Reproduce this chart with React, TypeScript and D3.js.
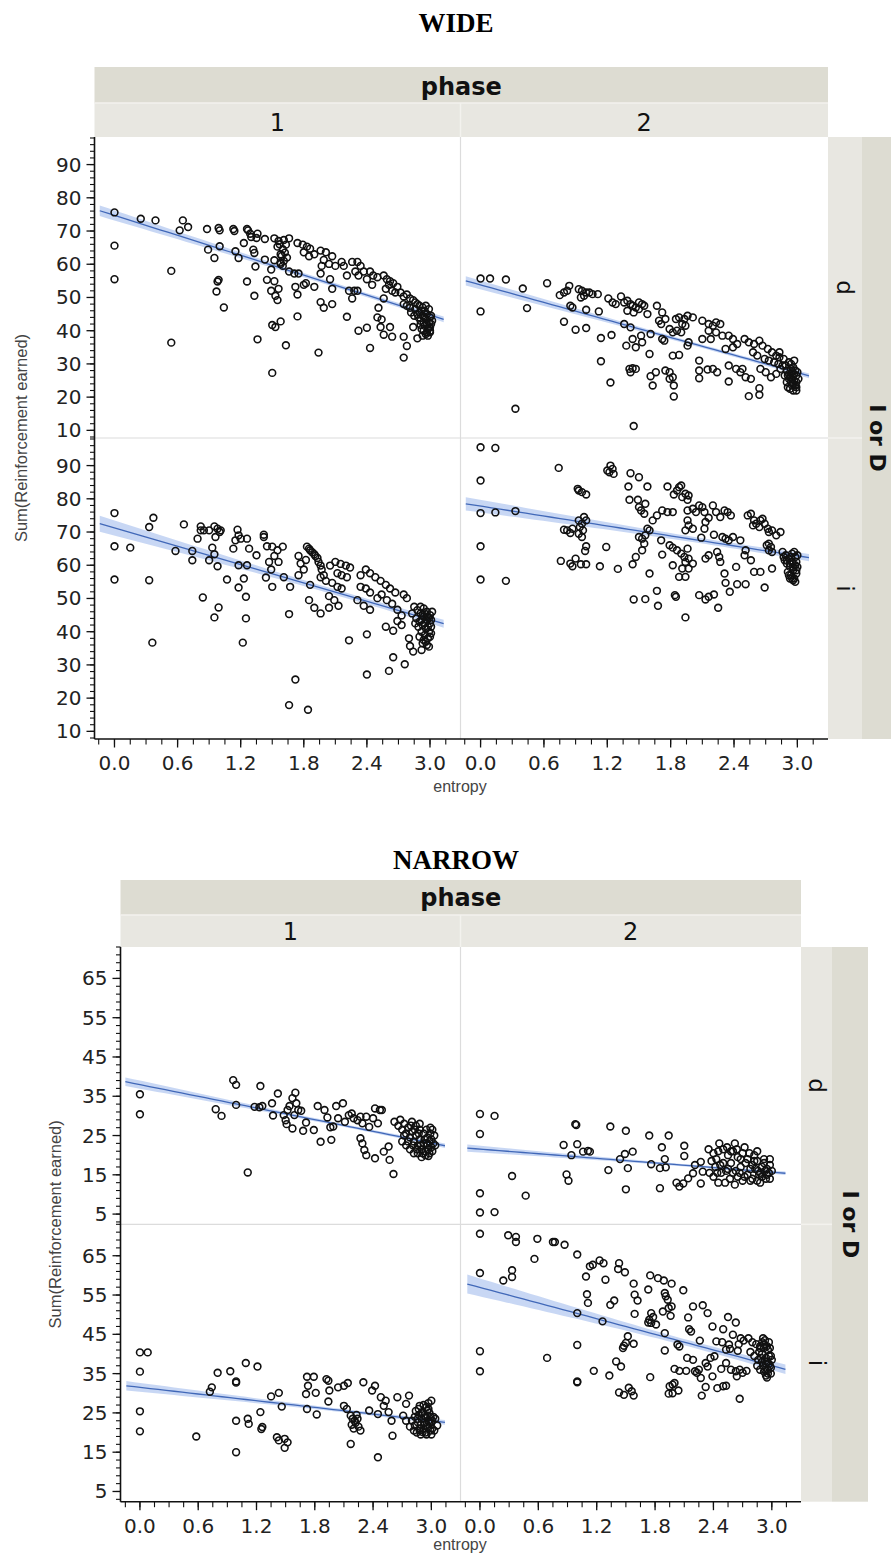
import React from "react";
import * as d3 from "d3";

type Pt = [number, number];

// ---------- shared ticks / labels ----------
const PHASES = ["1", "2"];
const GROUPS = ["d", "i"];
const X_TICKS = [0, 0.6, 1.2, 1.8, 2.4, 3.0];
const WIDE_Y_TICKS = [10, 20, 30, 40, 50, 60, 70, 80, 90];
const NARROW_Y_TICKS = [5, 15, 25, 35, 45, 55, 65];

// ---------- WIDE data ----------
const WIDE_P1_D: Pt[] = [
  [0.00,75.6],[0.00,65.6],[0.00,55.5],[0.25,73.7],[0.39,73.2],[0.54,58.0],[0.54,36.4],[0.65,73.2],[0.62,70.2],[0.70,71.2],
  [0.88,70.6],[0.89,64.4],[0.95,61.9],[0.99,70.9],[1.00,70.2],[1.00,65.4],[0.97,51.8],[0.98,54.8],[0.99,55.3],[1.04,47.0],
  [1.13,70.6],[1.14,70.0],[1.15,63.9],[1.18,61.9],[1.23,66.4],[1.26,70.6],[1.27,70.2],[1.26,54.8],[1.29,69.2],[1.30,68.2],
  [1.32,64.4],[1.33,63.4],[1.33,50.5],[1.34,59.3],[1.36,37.4],[1.36,69.2],[1.35,67.9],[1.43,67.6],[1.43,61.4],[1.45,55.3],
  [1.52,67.8],[1.56,67.0],[1.61,67.3],[1.66,67.8],[1.55,65.3],[1.63,65.9],[1.58,63.0],[1.52,61.2],[1.58,60.1],[1.58,60.5],
  [1.60,59.5],[1.61,61.0],[1.49,58.4],[1.52,54.9],[1.56,52.6],[1.49,52.0],[1.53,50.5],[1.55,49.2],[1.58,42.8],[1.50,41.7],
  [1.53,41.1],[1.63,35.6],[1.50,27.3],[1.74,66.4],[1.79,65.9],[1.83,65.3],[1.86,64.7],[1.80,63.6],[1.85,62.4],[1.90,63.0],
  [1.66,57.8],[1.71,57.2],[1.75,57.2],[1.72,53.2],[1.74,50.9],[1.80,53.8],[1.82,54.3],[1.90,53.2],[1.74,44.3],[1.94,33.4],
  [1.96,64.1],[2.01,63.6],[1.99,61.3],[2.04,60.1],[1.97,59.5],[2.07,62.4],[2.10,59.5],[1.96,57.2],[2.05,55.5],[2.07,52.6],
  [1.96,48.6],[1.99,46.9],[2.07,48.0],[2.16,60.7],[2.18,59.5],[2.21,56.6],[2.21,44.2],[2.26,60.7],[2.31,60.7],[2.34,59.5],
  [2.29,57.8],[2.32,56.6],[2.23,52.0],[2.28,52.0],[2.31,52.0],[2.26,49.7],[2.32,40.0],[2.40,40.9],[2.37,57.8],[2.43,57.8],
  [2.46,56.6],[2.50,56.1],[2.40,55.5],[2.45,53.8],[2.56,56.6],[2.59,55.5],[2.62,54.9],[2.65,54.3],[2.61,53.8],[2.58,52.6],
  [2.64,52.0],[2.67,51.5],[2.56,49.7],[2.51,46.9],[2.50,44.0],[2.54,43.4],[2.43,34.8],[2.53,41.1],[2.56,38.8],[2.62,41.1],
  [2.64,38.2],[2.69,53.2],[2.72,51.5],[2.75,50.3],[2.78,50.9],[2.81,49.7],[2.84,49.2],[2.88,48.0],[2.81,46.9],[2.75,48.0],
  [2.75,31.9],[2.75,38.2],[2.78,35.4],[2.88,37.7],[2.84,41.1],[2.90,45.5],[2.93,44.5],[2.96,43.5],[2.99,42.5],[2.95,41.5],
  [2.98,40.5],[2.92,40.5],[3.00,39.5],[2.94,42.5],[2.97,45.0],[3.00,44.0],[2.96,39.0],[2.91,43.0],[2.99,41.0],[3.01,42.0],
  [2.95,46.0],[2.93,47.0],[2.98,38.5],[2.89,44.0],[3.00,40.0],[2.78,47.5],[2.82,45.5],[2.85,44.5],[2.86,46.5],
  [2.92,46.0],[2.95,44.0],[2.97,42.0],[2.99,46.5],[3.01,44.5],[2.94,40.0],[2.97,39.5],[3.00,41.0],[2.91,41.8],[2.96,47.5],
  [2.88,45.0],[2.93,38.5],[3.02,43.0],[2.90,47.5],[2.86,48.5],[1.57,66.0],[1.60,64.5],[1.62,63.5],[1.64,62.0],[1.59,62.5]
];

const WIDE_P2_D: Pt[] = [
  [0.00,55.7],[0.09,55.7],[0.00,45.8],[0.24,55.4],[0.40,52.7],[0.44,46.8],[0.33,16.5],[0.63,54.3],[0.79,42.7],[0.75,50.7],
  [0.79,51.5],[0.84,53.5],[0.82,52.0],[0.85,47.5],[0.87,47.0],[0.90,40.3],[1.00,40.8],[0.93,52.5],[0.96,52.0],[1.00,51.5],
  [0.98,50.5],[1.03,51.5],[1.06,51.0],[1.11,51.0],[0.95,50.0],[1.00,46.3],[1.12,45.8],[1.14,37.8],[1.24,38.7],[1.14,30.8],
  [1.23,24.4],[1.21,49.7],[1.25,48.5],[1.33,50.3],[1.28,48.0],[1.36,48.5],[1.39,49.0],[1.42,48.0],[1.44,47.5],[1.47,47.0],
  [1.50,48.5],[1.53,48.0],[1.55,47.5],[1.39,46.0],[1.45,45.5],[1.50,46.5],[1.58,45.0],[1.36,42.0],[1.42,41.0],[1.38,35.5],
  [1.44,37.5],[1.47,35.0],[1.53,36.5],[1.52,38.5],[1.41,28.5],[1.44,28.7],[1.47,28.5],[1.42,27.5],[1.45,11.3],[1.60,33.0],
  [1.61,39.0],[1.67,47.5],[1.72,45.5],[1.69,43.0],[1.71,42.0],[1.75,43.5],[1.79,40.5],[1.72,37.5],[1.74,37.0],[1.61,26.3],
  [1.63,23.5],[1.66,27.5],[1.75,28.0],[1.79,27.5],[1.82,26.0],[1.83,23.5],[1.83,20.2],[1.79,25.5],[1.82,32.5],[1.88,32.7],
  [1.85,43.5],[1.88,44.0],[1.93,43.5],[1.96,44.5],[2.01,44.0],[1.91,42.0],[1.94,41.5],[1.86,40.0],[1.90,39.5],[1.82,39.5],
  [1.97,36.5],[1.96,35.5],[2.07,31.0],[2.07,28.0],[2.07,25.7],[2.15,28.3],[2.20,28.5],[2.24,27.5],[2.10,43.0],[2.16,42.0],
  [2.20,41.5],[2.23,42.5],[2.27,42.0],[2.16,40.0],[2.23,39.5],[2.10,37.5],[2.18,37.5],[2.29,38.5],[2.35,38.5],[2.39,37.5],
  [2.32,34.5],[2.39,35.0],[2.43,36.0],[2.35,29.5],[2.42,28.5],[2.46,27.5],[2.51,26.0],[2.56,25.5],[2.48,28.5],[2.35,24.7],
  [2.54,20.3],[2.64,20.7],[2.64,22.7],[2.50,37.5],[2.54,36.5],[2.59,36.0],[2.64,37.0],[2.67,35.5],[2.72,34.5],[2.76,33.5],
  [2.80,32.5],[2.83,32.0],[2.58,33.5],[2.62,32.5],[2.69,31.5],[2.73,31.0],[2.78,30.5],[2.65,28.5],[2.70,27.5],[2.75,26.0],
  [2.80,27.0],[2.84,28.5],[2.89,29.5],[2.92,30.5],[2.94,28.5],[2.95,27.5],[2.91,26.5],[2.92,25.5],[2.94,24.5],[2.95,23.5],
  [2.91,23.0],[2.97,25.0],[2.99,26.5],[2.87,31.5],[2.83,33.5],[2.96,24.0],[2.98,23.5],[2.93,26.0],[2.97,27.0],[2.99,24.5],
  [2.90,28.0],[2.93,22.5],[2.96,22.0],[2.99,23.0],[2.95,25.5],[2.98,28.0],[2.92,27.0],[2.96,29.0],[3.00,27.5],[2.94,30.0],
  [2.97,31.0],[2.90,24.5],[2.99,22.0],[2.88,26.5],[2.86,29.5],[2.82,30.0],[3.01,25.5]
];

const WIDE_P1_I: Pt[] = [
  [0.00,75.7],[0.00,65.7],[0.00,55.7],[0.15,65.3],[0.33,71.5],[0.37,74.3],[0.33,55.5],[0.36,36.7],[0.66,72.3],[0.58,64.3],
  [0.74,64.3],[0.74,61.5],[0.79,68.0],[0.82,71.7],[0.82,70.5],[0.85,70.5],[0.84,50.3],[0.90,70.5],[0.95,71.7],[0.98,71.0],
  [1.00,70.0],[0.96,68.5],[1.01,70.5],[0.93,65.3],[0.95,63.3],[0.98,59.7],[0.90,61.5],[0.95,44.3],[0.99,47.3],[1.07,55.7],
  [1.13,65.0],[1.15,67.5],[1.17,70.7],[1.18,69.0],[1.20,68.0],[1.26,68.0],[1.18,60.0],[1.26,60.0],[1.18,53.3],[1.23,56.0],
  [1.25,50.5],[1.22,36.7],[1.25,44.0],[1.28,65.0],[1.35,63.0],[1.42,69.2],[1.42,68.5],[1.45,65.7],[1.47,61.0],[1.44,56.3],
  [1.50,65.6],[1.55,64.5],[1.60,65.6],[1.52,62.8],[1.56,61.0],[1.49,58.7],[1.50,53.5],[1.67,53.5],[1.66,45.3],[1.72,25.6],
  [1.66,17.9],[1.84,16.5],[1.61,56.4],[1.75,62.8],[1.77,60.5],[1.82,61.6],[1.80,58.7],[1.75,57.0],[1.83,65.6],[1.86,64.5],
  [1.90,63.3],[1.93,62.2],[1.94,61.0],[1.96,59.9],[1.97,58.7],[1.99,57.0],[1.96,56.4],[2.01,55.3],[1.85,65.0],[1.88,63.9],
  [1.91,62.8],[1.86,54.1],[1.85,49.5],[1.90,47.2],[1.96,45.5],[2.05,59.9],[2.10,61.0],[2.15,60.4],[2.20,59.9],[2.24,59.3],
  [2.12,57.6],[2.16,57.0],[2.21,56.4],[2.07,54.7],[2.12,53.5],[2.16,53.0],[2.04,50.7],[2.09,49.5],[2.13,47.8],[2.04,47.2],
  [2.23,37.4],[2.34,57.0],[2.39,58.7],[2.43,57.6],[2.48,56.4],[2.34,53.5],[2.39,53.0],[2.43,51.8],[2.31,49.5],[2.37,47.8],
  [2.43,46.6],[2.50,50.1],[2.40,39.2],[2.40,27.1],[2.53,55.3],[2.58,54.1],[2.62,53.0],[2.67,51.8],[2.54,51.2],[2.59,49.5],
  [2.64,48.4],[2.69,46.6],[2.75,51.2],[2.78,50.1],[2.73,44.9],[2.69,43.2],[2.58,41.5],[2.65,40.3],[2.73,42.0],[2.61,28.2],
  [2.65,32.3],[2.76,30.2],[2.80,38.0],[2.81,35.7],[2.84,34.0],[2.92,34.5],[2.85,47.5],[2.88,46.5],[2.91,45.5],[2.94,44.5],
  [2.97,43.5],[3.00,42.5],[2.90,43.0],[2.93,42.0],[2.96,41.0],[2.99,40.0],[2.95,39.0],[2.98,38.0],[3.01,41.5],[2.92,40.0],
  [2.87,44.0],[2.97,46.0],[3.00,45.0],[2.94,47.0],[2.89,41.5],[2.96,37.0],[3.00,38.5],[2.83,45.5],[2.99,44.0],[2.93,36.5],
  [2.91,47.5],[2.95,45.5],[2.98,44.5],[3.01,43.5],[2.92,43.5],[2.95,42.5],[2.98,41.5],[3.01,39.5],[2.94,37.5],[2.97,36.0],
  [2.99,35.5],[2.90,38.5],[2.93,45.0],[3.02,46.0],[2.86,42.5]
];

const WIDE_P2_I: Pt[] = [
  [0.00,95.5],[0.14,95.3],[0.00,85.5],[0.00,75.7],[0.14,75.9],[0.33,76.3],[0.00,65.7],[0.00,55.7],[0.24,55.3],[0.74,89.3],
  [0.76,61.3],[0.85,60.5],[0.87,59.7],[0.90,62.0],[0.95,60.3],[1.00,60.3],[0.79,70.7],[0.82,70.5],[0.85,69.7],[0.87,71.0],
  [0.92,83.0],[0.93,82.5],[0.96,82.0],[1.00,81.3],[0.93,73.5],[0.96,72.5],[0.94,71.5],[0.97,70.5],[0.93,69.5],[0.96,68.5],
  [1.00,73.5],[0.98,74.5],[1.00,65.7],[0.99,64.3],[1.13,59.7],[1.19,65.5],[1.30,58.9],[1.20,88.5],[1.23,90.0],[1.25,89.0],
  [1.26,87.5],[1.22,88.0],[1.42,87.7],[1.50,86.5],[1.58,83.7],[1.40,83.7],[1.41,79.7],[1.49,79.7],[1.56,78.5],[1.44,60.3],
  [1.47,62.5],[1.53,64.5],[1.55,66.5],[1.50,77.5],[1.52,76.5],[1.55,75.5],[1.58,71.0],[1.50,68.5],[1.53,68.0],[1.56,69.0],
  [1.60,70.5],[1.45,49.7],[1.56,49.8],[1.60,57.5],[1.67,52.3],[1.68,47.8],[1.63,73.5],[1.67,75.0],[1.72,76.5],[1.77,76.0],
  [1.82,76.0],[1.71,67.5],[1.72,63.2],[1.79,66.0],[1.82,65.3],[1.82,60.0],[1.77,83.7],[1.83,81.3],[1.86,82.5],[1.88,83.5],
  [1.90,84.0],[1.91,80.5],[1.94,81.5],[1.96,79.7],[1.97,81.0],[1.88,56.5],[1.94,56.5],[1.84,51.0],[1.85,50.5],[1.94,44.3],
  [1.86,64.5],[1.90,63.5],[1.93,62.5],[1.96,65.0],[1.97,62.0],[1.94,61.0],[2.01,60.5],[1.91,59.0],[1.97,59.0],[1.96,73.5],
  [1.97,72.0],[2.01,71.0],[1.94,70.5],[1.96,76.5],[2.01,77.0],[2.04,76.0],[2.07,78.0],[2.10,77.5],[2.12,76.0],[2.09,68.3],
  [2.12,71.0],[2.13,73.0],[2.16,74.3],[2.20,78.0],[2.23,76.0],[2.27,74.5],[2.31,76.5],[2.34,76.0],[2.37,75.0],[2.07,51.0],
  [2.13,49.7],[2.16,50.5],[2.21,51.2],[2.25,47.2],[2.31,57.5],[2.36,52.0],[2.32,54.7],[2.13,62.0],[2.16,63.0],[2.21,69.2],
  [2.24,64.0],[2.26,62.5],[2.27,61.0],[2.29,68.5],[2.32,68.0],[2.35,67.5],[2.39,68.5],[2.42,59.5],[2.46,67.5],[2.50,63.0],
  [2.51,64.5],[2.53,75.0],[2.56,75.5],[2.58,72.0],[2.59,73.5],[2.61,72.5],[2.64,71.5],[2.65,73.5],[2.67,74.0],[2.69,72.5],
  [2.72,71.0],[2.73,70.0],[2.76,70.5],[2.80,69.0],[2.84,70.0],[2.56,61.5],[2.59,58.0],[2.65,58.0],[2.51,54.3],[2.69,53.3],
  [2.76,59.0],[2.43,54.3],[2.73,66.5],[2.75,65.5],[2.73,64.5],[2.71,66.0],[2.76,64.0],[2.86,64.0],[2.89,63.0],[2.92,62.0],
  [2.95,61.0],[2.98,60.0],[2.90,60.5],[2.93,59.5],[2.96,58.5],[2.99,57.5],[2.94,57.0],[2.97,56.0],[2.91,58.0],[2.88,61.5],
  [2.95,63.5],[2.98,62.5],[2.93,56.0],[2.96,55.5],[2.99,61.0],[2.87,62.5],[2.90,61.5],[2.93,60.5],[2.96,59.5],[2.99,58.5],
  [2.92,57.0],[2.95,56.0],[2.98,55.0],[2.97,64.0],[3.00,63.0],[2.94,62.5],[3.00,59.5]
];

// ---------- NARROW data ----------
const NARROW_P1_D: Pt[] = [
  [0.00,35.5],[0.00,30.4],[0.78,31.7],[0.84,30.0],[0.96,39.1],[0.99,37.9],[0.99,32.8],[1.11,15.6],[1.24,37.6],[1.18,32.3],
  [1.23,32.2],[1.26,32.5],[1.36,33.2],[1.42,35.7],[1.37,30.1],[1.48,30.2],[1.50,28.9],[1.51,27.9],[1.57,26.8],[1.52,31.5],
  [1.54,32.5],[1.57,34.5],[1.60,35.9],[1.61,33.2],[1.63,31.5],[1.66,31.3],[1.59,30.2],[1.68,26.2],[1.71,28.3],[1.79,26.4],
  [1.86,23.4],[1.83,32.5],[1.90,31.5],[1.93,29.6],[1.96,27.1],[1.97,23.9],[1.99,27.3],[2.02,32.5],[2.09,33.2],[2.04,29.4],
  [2.11,28.5],[2.15,30.2],[2.18,30.6],[2.20,29.4],[2.24,28.9],[2.27,29.8],[2.29,28.1],[2.33,29.8],[2.36,27.2],[2.40,29.4],
  [2.42,31.9],[2.47,31.5],[2.49,31.5],[2.45,28.1],[2.27,24.3],[2.29,23.0],[2.31,21.3],[2.33,20.0],[2.42,19.2],[2.51,20.9],
  [2.56,22.2],[2.57,18.8],[2.61,15.2],[2.62,28.5],[2.66,27.5],[2.70,26.5],[2.74,25.5],[2.78,24.5],[2.82,23.5],[2.86,22.5],
  [2.90,21.5],[2.94,21.0],[2.98,20.5],[2.68,29.0],[2.72,28.0],[2.76,27.0],[2.80,26.0],[2.84,25.0],[2.88,24.0],[2.92,23.0],
  [2.96,22.5],[3.00,22.0],[2.80,28.5],[2.84,27.5],[2.88,26.5],[2.92,25.5],[2.96,24.5],[3.00,24.0],[2.86,20.5],[2.90,19.5],
  [2.94,20.0],[2.98,23.5],[2.78,21.5],[2.82,20.5],[2.74,22.5],[3.02,23.0],[2.70,23.5],[2.88,28.0],[2.95,26.5],[2.99,25.5],
  [2.85,21.5],[2.89,22.5],[2.93,24.0],[2.97,21.5],[3.01,21.0],[3.03,25.0],[2.91,20.5],[2.95,23.0],[2.87,25.5],[2.83,26.5],
  [2.79,27.5],[2.76,23.5],[2.99,27.0],[3.04,22.5],[2.81,22.5],[2.72,25.0],[2.97,19.8],[3.01,26.5]
];

const NARROW_P2_D: Pt[] = [
  [0.00,30.5],[0.15,30.0],[0.00,25.4],[0.00,10.3],[0.00,5.4],[0.15,5.5],[0.33,14.7],[0.47,9.7],[0.86,22.6],[1.00,22.8],
  [0.94,20.0],[1.06,20.9],[1.11,21.1],[1.13,20.9],[0.98,27.9],[0.99,27.7],[0.89,15.1],[0.91,13.5],[1.34,27.3],[1.50,26.2],
  [1.32,16.2],[1.44,19.0],[1.49,20.3],[1.57,20.9],[1.52,16.7],[1.50,11.3],[1.74,25.0],[1.94,25.0],[1.87,22.0],[2.10,22.4],
  [1.90,19.0],[2.10,19.8],[1.76,17.7],[1.85,16.7],[1.91,16.9],[1.85,11.6],[2.02,13.0],[2.05,12.0],[2.09,12.8],[2.14,14.1],
  [2.19,15.4],[2.21,17.5],[2.27,18.3],[2.29,15.8],[2.27,12.8],[2.35,21.5],[2.40,20.5],[2.45,21.0],[2.38,18.5],[2.42,17.0],
  [2.36,15.5],[2.40,14.5],[2.45,13.0],[2.50,21.5],[2.55,20.0],[2.60,21.0],[2.65,19.5],[2.70,20.5],[2.75,19.0],[2.50,18.0],
  [2.55,16.5],[2.60,15.5],[2.65,14.5],[2.70,13.5],[2.75,15.0],[2.80,17.5],[2.85,18.5],[2.90,17.0],[2.95,16.5],[3.00,16.0],
  [2.80,14.0],[2.85,13.5],[2.90,14.5],[2.95,15.0],[2.52,13.0],[2.62,12.5],[2.48,15.5],[2.58,18.0],[2.68,17.0],[2.78,16.5],
  [2.88,15.5],[2.98,17.5],[2.92,19.0],[2.82,20.0],[2.72,22.0],[2.62,23.0],[2.46,23.0],[2.86,16.0],[2.94,14.0],
  [2.43,19.0],[2.47,17.5],[2.53,16.0],[2.57,14.0],[2.63,16.0],[2.67,15.5],[2.73,18.0],[2.77,20.5],[2.83,16.5],[2.87,15.0],
  [2.93,16.0],[2.97,15.5],[2.58,21.0],[2.68,19.0],[2.78,13.5],[2.88,13.0],[2.98,14.0],[2.92,18.0],[2.82,18.5],[2.72,14.5],
  [2.64,21.5],[2.54,22.0],[2.44,15.5],[2.98,19.0],[2.85,21.0]
];

const NARROW_P1_I: Pt[] = [
  [0.00,40.4],[0.08,40.4],[0.00,35.5],[0.00,25.4],[0.00,20.3],[0.58,19.0],[0.72,30.4],[0.74,31.5],[0.80,35.2],[0.93,35.6],
  [0.99,33.0],[0.99,32.7],[0.99,23.0],[1.11,23.5],[1.12,22.2],[0.99,15.0],[1.09,37.7],[1.21,36.8],[1.24,25.2],[1.25,20.9],
  [1.26,21.4],[1.35,29.2],[1.43,30.1],[1.46,26.6],[1.41,18.8],[1.43,18.0],[1.49,18.4],[1.52,17.5],[1.49,16.1],[1.72,34.2],
  [1.79,34.2],[1.92,33.6],[1.94,33.2],[1.71,29.8],[1.73,31.9],[1.81,30.1],[1.95,30.7],[1.72,26.0],[1.82,24.6],[1.94,27.9],
  [2.04,31.5],[2.10,31.9],[2.14,32.6],[2.17,17.1],[2.10,26.8],[2.13,26.0],[2.17,24.3],[2.21,23.0],[2.24,23.5],[2.30,32.8],
  [2.36,25.6],[2.39,30.7],[2.42,31.9],[2.45,24.7],[2.45,13.7],[2.48,29.0],[2.51,26.8],[2.53,28.1],[2.56,25.2],[2.59,23.0],
  [2.60,19.2],[2.18,22.0],[2.20,21.0],[2.22,22.5],[2.25,21.5],[2.19,23.5],[2.23,24.5],[2.27,20.5],[2.65,29.0],[2.71,24.3],
  [2.74,27.3],[2.77,29.4],[2.83,21.8],[2.86,22.6],[2.88,26.8],[2.91,20.1],[2.97,26.0],[3.00,28.1],[3.03,20.5],[3.06,21.8],
  [2.84,25.5],[2.87,24.5],[2.90,23.5],[2.93,22.5],[2.96,21.5],[2.99,20.5],[2.85,20.0],[2.88,21.0],[2.91,25.0],[2.94,24.0],
  [2.97,23.0],[3.00,22.5],[2.89,19.5],[2.95,19.5],[2.92,27.0],[2.98,25.0],[3.02,24.0],[2.80,23.0],[2.82,20.5],[2.95,26.5],
  [3.01,23.0],[2.78,21.5],[2.74,23.0],[2.86,23.5],[2.89,22.0],[2.92,21.0],[2.95,22.0],[2.98,22.5],[3.01,21.0],[3.04,23.5],
  [2.87,26.0],[2.90,25.0],[2.93,24.5],[2.96,25.5],[2.99,24.0],[2.88,20.5],[2.94,20.0],[3.00,19.5],[2.83,24.0],[2.97,27.5]
];

const NARROW_P2_I: Pt[] = [
  [0.00,70.6],[0.00,60.6],[0.00,40.7],[0.00,35.6],[0.29,70.2],[0.37,69.8],[0.37,68.5],[0.59,69.3],[0.75,68.5],[0.77,68.5],
  [0.87,67.8],[0.24,58.7],[0.33,59.6],[0.33,61.3],[0.56,64.2],[0.69,39.0],[1.00,65.3],[1.00,50.4],[1.00,42.3],[1.00,33.0],
  [1.00,32.8],[1.13,62.3],[1.16,62.7],[1.23,63.8],[1.27,63.1],[1.09,59.7],[1.29,58.9],[1.10,55.2],[1.11,53.0],[1.26,48.3],
  [1.17,35.7],[1.33,34.5],[1.34,52.5],[1.38,53.6],[1.40,38.1],[1.45,36.8],[1.43,63.1],[1.42,61.6],[1.49,60.8],[1.52,44.5],
  [1.50,42.8],[1.48,42.1],[1.47,41.5],[1.58,42.6],[1.43,30.2],[1.48,29.6],[1.53,31.4],[1.58,29.4],[1.56,30.5],[1.58,57.9],
  [1.59,55.1],[1.62,53.6],[1.59,50.2],[1.73,56.4],[1.75,60.0],[1.83,59.3],[1.89,58.7],[1.97,57.9],[1.90,55.5],[1.91,54.7],
  [1.93,53.8],[1.97,52.1],[2.09,56.2],[1.76,50.4],[1.78,49.4],[1.74,48.7],[1.76,47.9],[1.73,48.0],[1.81,47.5],[1.88,50.8],
  [1.94,51.7],[1.96,49.7],[1.90,45.3],[1.90,40.9],[2.03,42.4],[2.05,41.9],[1.75,34.1],[1.95,31.8],[1.98,32.2],[2.00,32.6],
  [1.94,29.9],[2.04,30.7],[1.98,30.0],[2.19,52.1],[2.29,52.4],[2.34,50.4],[2.14,49.3],[2.15,46.3],[2.17,45.7],[2.26,43.4],
  [2.00,36.2],[2.05,35.7],[2.12,35.7],[2.13,39.0],[2.19,38.5],[2.21,35.6],[2.23,35.2],[2.25,36.0],[2.27,33.9],[2.32,37.7],
  [2.34,36.8],[2.37,39.0],[2.41,39.4],[2.39,34.3],[2.28,29.4],[2.32,31.6],[2.44,31.3],[2.50,31.8],[2.53,31.9],[2.67,28.6],
  [2.39,47.0],[2.50,46.3],[2.55,49.4],[2.63,48.0],[2.60,44.9],[2.43,43.2],[2.49,43.0],[2.53,41.1],[2.56,42.4],[2.57,41.3],
  [2.65,40.8],[2.66,42.5],[2.68,44.0],[2.71,43.4],[2.58,36.0],[2.63,35.6],[2.67,36.0],[2.70,35.2],[2.74,35.7],[2.64,34.3],
  [2.53,37.7],[2.48,36.2],[2.76,44.0],[2.80,43.0],[2.84,42.5],[2.88,42.0],[2.92,41.5],[2.96,41.0],[2.78,40.5],[2.82,39.5],
  [2.86,38.5],[2.90,38.0],[2.94,37.5],[2.98,37.0],[2.88,36.0],[2.92,35.5],[2.96,35.0],[2.99,36.5],[2.90,40.0],[2.94,39.0],
  [2.97,39.5],[2.93,43.5],[2.97,43.0],[2.85,37.0],[3.00,38.5],[2.95,34.0],[2.91,44.0],[2.87,40.5],[2.89,39.0],[2.91,37.0],
  [2.93,36.0],[2.95,38.0],[2.97,37.5],[2.99,39.5],[2.92,42.5],[2.95,42.0],[2.98,41.5],[2.90,43.0],[2.96,36.0],[2.94,34.5],
  [2.99,35.0],[2.88,41.5]
];

// fitted lines: [x0, y0, x1, y1]; band half-widths: [atStart, minimum]
const WIDE_FIT_1D = [-0.14, 76.1, 3.13, 43.4];
const WIDE_FIT_2D = [-0.14, 55.0, 3.11, 26.4];
const WIDE_FIT_1I = [-0.14, 72.5, 3.13, 42.4];
const WIDE_FIT_2I = [-0.14, 78.5, 3.11, 62.3];
const NARROW_FIT_1D = [-0.15, 38.7, 3.14, 22.4];
const NARROW_FIT_2D = [-0.13, 21.8, 3.14, 15.4];
const NARROW_FIT_1I = [-0.14, 31.9, 3.14, 22.6];
const NARROW_FIT_2I = [-0.13, 57.8, 3.14, 36.1];
const WIDE_BAND_1D = [1.6, 0.6];
const WIDE_BAND_2D = [1.4, 0.5];
const WIDE_BAND_1I = [2.4, 0.8];
const WIDE_BAND_2I = [2.0, 0.8];
const NARROW_BAND_1D = [1.1, 0.35];
const NARROW_BAND_2D = [0.9, 0.3];
const NARROW_BAND_1I = [1.2, 0.4];
const NARROW_BAND_2I = [2.4, 0.8];

// ---------- styling ----------
const SANS = "'DejaVu Sans', Verdana, sans-serif";
const LABEL = "'Liberation Sans', Arial, sans-serif";
const SERIF = "'Liberation Serif', 'Times New Roman', serif";
const STRIP_DARK = "#dddcd2";
const STRIP_LIGHT = "#e8e7e1";
const LINE_BLUE = "#4168b8";
const BAND_BLUE = "rgba(110,150,225,0.38)";

interface PanelData { pts: Pt[]; fit: number[]; band: number[]; }
interface Cfg {
  id: string; title: string; titleY: number;
  x0: number; xm: number; x1: number; stripL: number; stripR: number; rowLabelX: number; groupLabelX: number;
  bandTop: number; bandMid: number; top: number; rowMid: number; bottom: number;
  yDomain: [number, number]; yTicks: number[]; yMinor: number[]; xDomain: [number, number];
  panels: PanelData[][]; yTitleX: number; xTitleY: number; phaseBase: number; numBase: number;
}

const WIDE: Cfg = {
  id: "w", title: "WIDE", titleY: 32,
  x0: 94.5, xm: 460.5, x1: 828, stripL: 862, stripR: 898, rowLabelX: 845, groupLabelX: 877,
  bandTop: 67, bandMid: 103, top: 137, rowMid: 438, bottom: 739,
  yDomain: [7.7, 98.3], yTicks: WIDE_Y_TICKS, yMinor: d3.range(8, 99, 2), xDomain: [-0.19, 3.29],
  panels: [
    [{ pts: WIDE_P1_D, fit: WIDE_FIT_1D, band: WIDE_BAND_1D }, { pts: WIDE_P2_D, fit: WIDE_FIT_2D, band: WIDE_BAND_2D }],
    [{ pts: WIDE_P1_I, fit: WIDE_FIT_1I, band: WIDE_BAND_1I }, { pts: WIDE_P2_I, fit: WIDE_FIT_2I, band: WIDE_BAND_2I }],
  ],
  yTitleX: 20.5, xTitleY: 792, phaseBase: 95, numBase: 131,
};

const NARROW: Cfg = {
  id: "n", title: "NARROW", titleY: 869,
  x0: 120.5, xm: 460.5, x1: 801, stripL: 832, stripR: 868, rowLabelX: 816.5, groupLabelX: 850,
  bandTop: 880, bandMid: 915, top: 947, rowMid: 1224.3, bottom: 1501.7,
  yDomain: [2.4, 73], yTicks: NARROW_Y_TICKS, yMinor: d3.range(3, 74, 2), xDomain: [-0.2, 3.3],
  panels: [
    [{ pts: NARROW_P1_D, fit: NARROW_FIT_1D, band: NARROW_BAND_1D }, { pts: NARROW_P2_D, fit: NARROW_FIT_2D, band: NARROW_BAND_2D }],
    [{ pts: NARROW_P1_I, fit: NARROW_FIT_1I, band: NARROW_BAND_1I }, { pts: NARROW_P2_I, fit: NARROW_FIT_2I, band: NARROW_BAND_2I }],
  ],
  yTitleX: 55, xTitleY: 1550, phaseBase: 906, numBase: 940,
};

const X_MINOR = d3.range(-0.15, 3.3, 0.15);

function Panel({ cfg, r, c }: { cfg: Cfg; r: number; c: number }) {
  const p = cfg.panels[r][c];
  const px0 = c === 0 ? cfg.x0 : cfg.xm;
  const px1 = c === 0 ? cfg.xm : cfg.x1;
  const py0 = r === 0 ? cfg.top : cfg.rowMid;
  const py1 = r === 0 ? cfg.rowMid : cfg.bottom;
  const x = d3.scaleLinear().domain(cfg.xDomain).range([px0, px1]);
  const y = d3.scaleLinear().domain(cfg.yDomain).range([py1, py0]);
  const [fx0, fy0, fx1, fy1] = p.fit;
  const slope = (fy1 - fy0) / (fx1 - fx0);
  const xc = 2.2;
  const [hs, hm] = p.band;
  const k = (hs * hs - hm * hm) / ((fx0 - xc) * (fx0 - xc));
  const samples = d3.range(0, 41).map((i) => {
    const xv = fx0 + ((fx1 - fx0) * i) / 40;
    const yv = fy0 + slope * (xv - fx0);
    const hw = Math.sqrt(hm * hm + k * (xv - xc) * (xv - xc));
    return { xv, yv, hw };
  });
  const area = d3.area<{ xv: number; yv: number; hw: number }>()
    .x((d) => x(d.xv)).y0((d) => y(d.yv - d.hw)).y1((d) => y(d.yv + d.hw));
  const line = d3.line<{ xv: number; yv: number }>().x((d) => x(d.xv)).y((d) => y(d.yv));
  const clipId = `clip-${cfg.id}-${r}-${c}`;
  return (
    <g>
      <clipPath id={clipId}>
        <rect x={px0} y={py0} width={px1 - px0} height={py1 - py0} />
      </clipPath>
      <g clipPath={`url(#${clipId})`}>
        <path d={area(samples) || ""} fill={BAND_BLUE} stroke="none" />
        <path d={line(samples) || ""} fill="none" stroke={LINE_BLUE} strokeWidth={1.3} />
        {p.pts.map((d, i) => (
          <circle key={i} cx={x(d[0])} cy={y(d[1])} r={3.4} fill="none" stroke="#111" strokeWidth={1.6} />
        ))}
      </g>
    </g>
  );
}

function Facet({ cfg }: { cfg: Cfg }) {
  const rows = [[cfg.top, cfg.rowMid], [cfg.rowMid, cfg.bottom]];
  const cols = [[cfg.x0, cfg.xm], [cfg.xm, cfg.x1]];
  const midX = (cfg.x0 + cfg.x1) / 2;
  return (
    <g>
      <text x={456} y={cfg.titleY} textAnchor="middle" fontFamily={SERIF} fontWeight="bold" fontSize={27} fill="#000">
        {cfg.title}
      </text>
      {/* column header */}
      <rect x={cfg.x0} y={cfg.bandTop} width={cfg.x1 - cfg.x0} height={cfg.bandMid - cfg.bandTop} fill={STRIP_DARK} />
      <rect x={cfg.x0} y={cfg.bandMid} width={cfg.x1 - cfg.x0} height={cfg.top - cfg.bandMid} fill={STRIP_LIGHT} />
      <line x1={cfg.x0} x2={cfg.x1} y1={cfg.bandMid} y2={cfg.bandMid} stroke="#f3f2ee" strokeWidth={1.5} />
      <line x1={cfg.xm} x2={cfg.xm} y1={cfg.bandMid} y2={cfg.top} stroke="#f3f2ee" strokeWidth={1.5} />
      <text x={midX} y={cfg.phaseBase} textAnchor="middle" fontFamily={SANS} fontWeight="bold" fontSize={24} fill="#111">
        phase
      </text>
      {PHASES.map((ph, i) => (
        <text key={ph} x={(cols[i][0] + cols[i][1]) / 2} y={cfg.numBase} textAnchor="middle" fontFamily={SANS} fontSize={24} fill="#111">
          {ph}
        </text>
      ))}
      {/* row header */}
      <rect x={cfg.x1} y={cfg.top} width={cfg.stripL - cfg.x1} height={cfg.bottom - cfg.top} fill={STRIP_LIGHT} />
      <rect x={cfg.stripL} y={cfg.top} width={cfg.stripR - cfg.stripL} height={cfg.bottom - cfg.top} fill={STRIP_DARK} />
      <line x1={cfg.x1} x2={cfg.stripL} y1={cfg.rowMid} y2={cfg.rowMid} stroke="#f3f2ee" strokeWidth={1.5} />
      {GROUPS.map((g, i) => (
        <text key={g} transform={`translate(${cfg.rowLabelX},${(rows[i][0] + rows[i][1]) / 2}) rotate(90)`}
          textAnchor="middle" dominantBaseline="central" fontFamily={SANS} fontSize={23} fill="#111">
          {g}
        </text>
      ))}
      <text transform={`translate(${cfg.groupLabelX},${cfg.rowMid}) rotate(90)`} textAnchor="middle"
        dominantBaseline="central" fontFamily={SANS} fontWeight="bold" fontSize={22} fill="#111">
        I or D
      </text>
      {/* plot background and dividers */}
      <rect x={cfg.x0} y={cfg.top} width={cfg.x1 - cfg.x0} height={cfg.bottom - cfg.top} fill="#fff" />
      <line x1={cfg.xm} x2={cfg.xm} y1={cfg.top} y2={cfg.bottom} stroke="#dcdcdc" strokeWidth={1.2} />
      <line x1={cfg.x0} x2={cfg.x1} y1={cfg.rowMid} y2={cfg.rowMid} stroke="#dcdcdc" strokeWidth={1.2} />
      {[0, 1].map((r) => [0, 1].map((c) => <Panel key={`${r}-${c}`} cfg={cfg} r={r} c={c} />))}
      {/* y axis */}
      <line x1={cfg.x0} x2={cfg.x0} y1={cfg.top} y2={cfg.bottom} stroke="#111" strokeWidth={1.6} />
      {rows.map((rw, ri) => {
        const y = d3.scaleLinear().domain(cfg.yDomain).range([rw[1], rw[0]]);
        return (
          <g key={ri}>
            {cfg.yMinor.map((v) => (
              <line key={`m${v}`} x1={cfg.x0 - 4.5} x2={cfg.x0} y1={y(v)} y2={y(v)} stroke="#111" strokeWidth={1.1} />
            ))}
            {cfg.yTicks.map((v) => (
              <g key={v}>
                <line x1={cfg.x0 - 8} x2={cfg.x0} y1={y(v)} y2={y(v)} stroke="#111" strokeWidth={1.3} />
                <text x={cfg.x0 - 13} y={y(v)} textAnchor="end" dominantBaseline="central" fontFamily={SANS} fontSize={20} fill="#222">
                  {v}
                </text>
              </g>
            ))}
          </g>
        );
      })}
      {/* x axis */}
      <line x1={cfg.x0} x2={cfg.x1} y1={cfg.bottom} y2={cfg.bottom} stroke="#111" strokeWidth={1.6} />
      {cols.map((cl, ci) => {
        const x = d3.scaleLinear().domain(cfg.xDomain).range([cl[0], cl[1]]);
        return (
          <g key={ci}>
            {X_MINOR.map((v, i) => (
              <line key={`m${i}`} x1={x(v)} x2={x(v)} y1={cfg.bottom} y2={cfg.bottom + 5.5} stroke="#111" strokeWidth={1.1} />
            ))}
            {X_TICKS.map((v) => (
              <g key={v}>
                <line x1={x(v)} x2={x(v)} y1={cfg.bottom} y2={cfg.bottom + 8.5} stroke="#111" strokeWidth={1.3} />
                <text x={x(v)} y={cfg.bottom + 31} textAnchor="middle" fontFamily={SANS} fontSize={20} fill="#222">
                  {v.toFixed(1)}
                </text>
              </g>
            ))}
          </g>
        );
      })}
      {/* axis titles */}
      <text transform={`translate(${cfg.yTitleX},${cfg.rowMid}) rotate(-90)`} textAnchor="middle" dominantBaseline="central"
        fontFamily={LABEL} fontSize={16.5} fill="#444">
        Sum(Reinforcement earned)
      </text>
      <text x={460} y={cfg.xTitleY} textAnchor="middle" fontFamily={LABEL} fontSize={16} fill="#444">
        entropy
      </text>
    </g>
  );
}

export default function App() {
  return (
    <svg width={891} height={1556} viewBox="0 0 891 1556"
      style={{ position: "absolute", left: 0, top: 0, background: "#fff", display: "block" }}>
      <rect x={0} y={0} width={891} height={1556} fill="#fff" />
      <Facet cfg={WIDE} />
      <Facet cfg={NARROW} />
    </svg>
  );
}
